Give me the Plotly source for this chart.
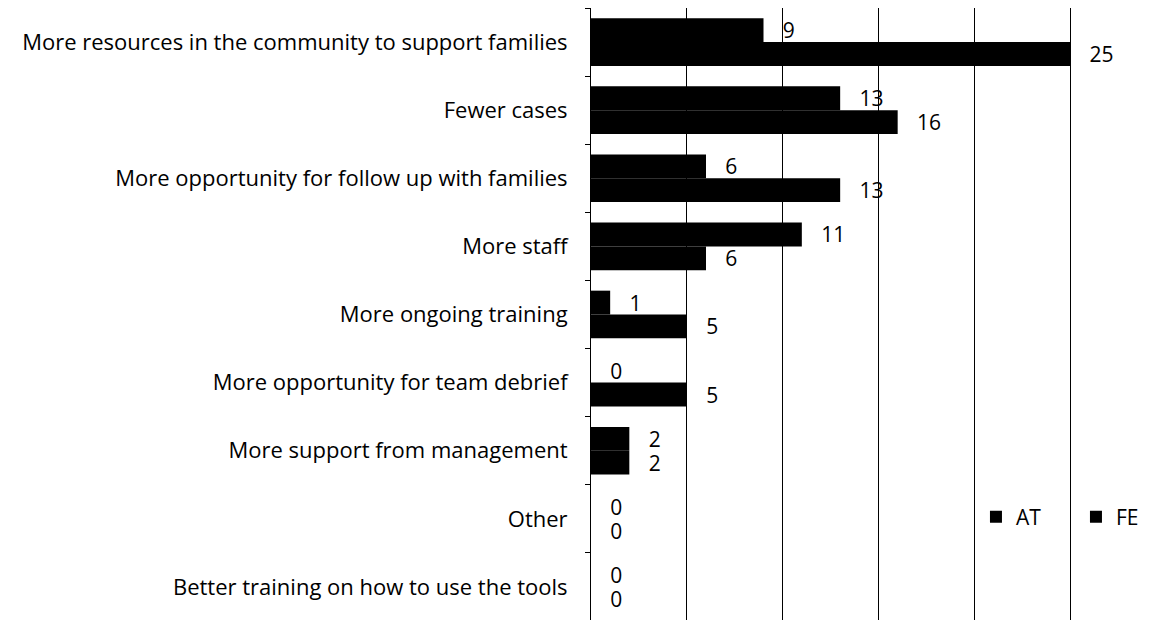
import plotly.graph_objects as go

# Survey answers (top to bottom as drawn)
categories = [
    'More resources in the community to support families',
    'Fewer cases',
    'More opportunity for follow up with families',
    'More staff',
    'More ongoing training',
    'More opportunity for team debrief',
    'More support from management',
    'Other',
    'Better training on how to use the tools',
]
at_values = [9, 13, 6, 11, 1, 0, 2, 0, 0]
fe_values = [25, 16, 13, 6, 5, 5, 2, 0, 0]
series_names = ['AT', 'FE']

FONT = 'Open Sans'

fig = go.Figure()
for name, vals in zip(series_names, [at_values, fe_values]):
    fig.add_trace(go.Bar(
        y=categories,
        x=vals,
        name=name,
        orientation='h',
        marker=dict(color='black', line=dict(width=0)),
        text=vals,
        texttemplate='\u00a0\u00a0\u00a0%{x}',
        textposition='outside',
        constraintext='none',
        cliponaxis=False,
        textfont=dict(family=FONT, size=21, color='black'),
    ))

fig.update_layout(
    width=1158,
    height=620,
    barmode='group',
    bargap=0.3,
    bargroupgap=0,
    plot_bgcolor='white',
    paper_bgcolor='white',
    font=dict(family=FONT, color='black'),
    margin=dict(l=583, r=0, t=0, b=7, autoexpand=False),
    showlegend=True,
    legend=dict(
        orientation='h',
        x=0.6695, y=0.1695,
        xanchor='left', yanchor='middle',
        font=dict(family=FONT, size=21, color='black'),
        entrywidth=55,
        entrywidthmode='pixels',
        itemwidth=30,
        bgcolor='rgba(0,0,0,0)',
    ),
    xaxis=dict(
        range=[0, 30],
        dtick=5,
        showgrid=True,
        gridcolor='black',
        gridwidth=1,
        zeroline=False,
        showticklabels=False,
        showline=False,
        fixedrange=True,
    ),
    yaxis=dict(
        autorange='reversed',
        showline=True,
        linecolor='black',
        linewidth=1,
        ticks='outside',
        tickson='boundaries',
        ticklen=5,
        tickcolor='black',
        ticklabelstandoff=18,
        tickfont=dict(family=FONT, size=22, color='black'),
        showgrid=False,
        automargin=False,
    ),
)

fig.write_html('out.html')
